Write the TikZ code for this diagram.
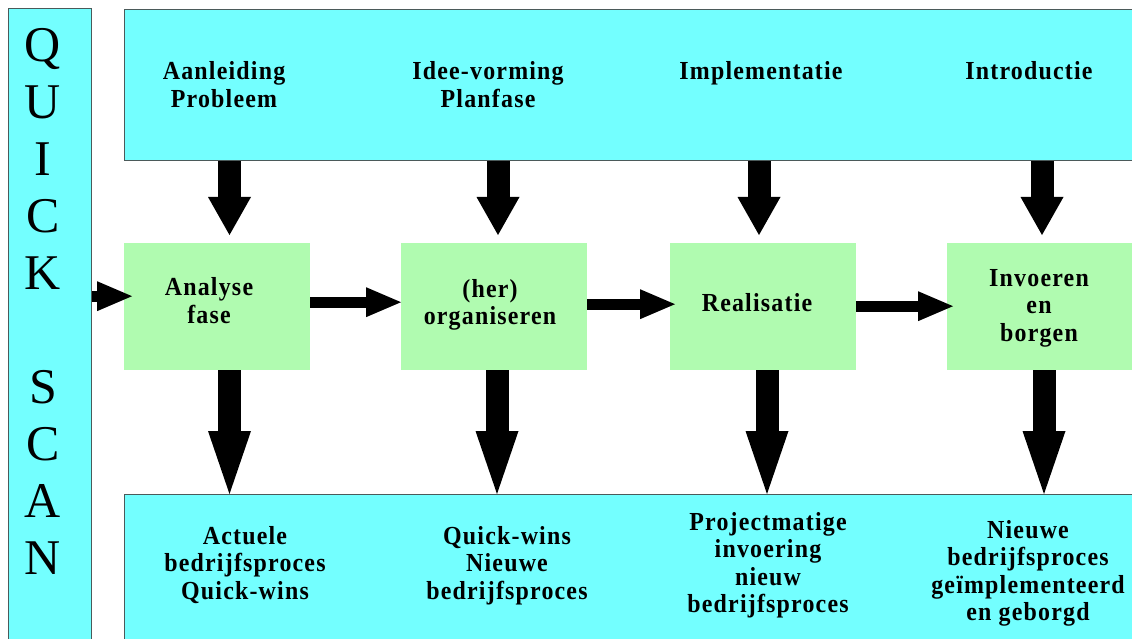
\documentclass[tikz,border=0pt]{standalone}
\usepackage{fontspec}
\setmainfont{Liberation Serif}
\newfontfamily\lblfont[LetterSpace=4.6,FakeStretch=0.92]{Liberation Serif Bold}
\usetikzlibrary{arrows.meta,calc}
\definecolor{cyanbox}{RGB}{115,255,255}
\definecolor{greenbox}{RGB}{176,251,176}
\definecolor{edgegray}{RGB}{75,90,90}
\tikzset{
  cyanpanel/.style={draw=edgegray, line width=1.3pt, fill=cyanbox, anchor=north west, inner sep=0pt},
  greenpanel/.style={draw=none, fill=greenbox, anchor=north west, inner sep=0pt, minimum width=186pt, minimum height=127pt},
  lbl/.style={font=\lblfont\fontsize{26}{27.5}\selectfont, align=center, inner sep=0pt, anchor=north},
  topdown/.style={line width=23pt, -{Triangle[length=38pt,width=43pt,line width=0pt]}},
  botdown/.style={line width=23pt, -{Triangle[length=63pt,width=43pt,line width=0pt]}},
  hright/.style={line width=11pt, -{Triangle[length=35pt,width=30pt,line width=0pt]}}
}
\begin{document}
\begin{tikzpicture}[x=1pt,y=-1pt]
\useasboundingbox (0,0) rectangle (1132,639);
\clip (0,0) rectangle (1132,639);
% panels
\node[cyanpanel, minimum width=83pt, minimum height=650pt] (qs) at (8,8) {};
\node[cyanpanel, minimum width=1020pt, minimum height=151pt] (top) at (124,9) {};
\node[cyanpanel, minimum width=1020pt, minimum height=160pt] (bot) at (124,494) {};
\node[greenpanel] (g1) at (124,243) {};
\node[greenpanel] (g2) at (401,243) {};
\node[greenpanel] (g3) at (670,243) {};
\node[greenpanel, minimum width=192pt] (g4) at (947,243) {};
% quick scan text
\node[font=\fontsize{50}{57}\selectfont, align=center, inner sep=0pt, anchor=north] (qstext) at (43,28)
  {Q\\U\\I\\C\\K\\~\\S\\C\\A\\N};
% top labels
\node[lbl] (t1) at (224,61.5) {Aanleiding\\Probleem};
\node[lbl] (t2) at (488,61.5) {Idee-vorming\\Planfase};
\node[lbl] (t3) at (761,61.5) {Implementatie};
\node[lbl] (t4) at (1029,61.5) {Introductie};
% green labels
\node[lbl] (l1) at (209,277.5) {Analyse\\fase};
\node[lbl] (l2) at (490,279) {(her)\\organiseren};
\node[lbl] (l3) at (757,293) {Realisatie};
\node[lbl] (l4) at (1039,269) {Invoeren\\en\\borgen};
% bottom labels
\node[lbl] (b1) at (245,526) {Actuele\\bedrijfsproces\\Quick-wins};
\node[lbl] (b2) at (507,526) {Quick-wins\\Nieuwe\\bedrijfsproces};
\node[lbl] (b3) at (768,512) {Projectmatige\\invoering\\nieuw\\bedrijfsproces};
\node[lbl] (b4) at (1028,520) {Nieuwe\\bedrijfsproces\\geïmplementeerd\\en geborgd};
% arrow columns
\coordinate (ta1) at (229.5,0);
\coordinate (ta2) at (498,0);
\coordinate (ta3) at (759,0);
\coordinate (ta4) at (1042,0);
\coordinate (ba1) at (229.5,0);
\coordinate (ba2) at (497,0);
\coordinate (ba3) at (767,0);
\coordinate (ba4) at (1044,0);
% top arrows
\draw[topdown, shorten >=8pt] (ta1 |- top.south) -- (ta1 |- g1.north);
\draw[topdown, shorten >=8pt] (ta2 |- top.south) -- (ta2 |- g2.north);
\draw[topdown, shorten >=8pt] (ta3 |- top.south) -- (ta3 |- g3.north);
\draw[topdown, shorten >=8pt] (ta4 |- top.south) -- (ta4 |- g4.north);
% bottom arrows
\draw[botdown] (ba1 |- g1.south) -- (ba1 |- bot.north);
\draw[botdown] (ba2 |- g2.south) -- (ba2 |- bot.north);
\draw[botdown] (ba3 |- g3.south) -- (ba3 |- bot.north);
\draw[botdown] (ba4 |- g4.south) -- (ba4 |- bot.north);
% horizontal arrows
\draw[hright] ([yshift=4.5pt]g1.east) -- ([yshift=4.5pt]g2.west);
\draw[hright, shorten >=-5pt] ([yshift=2.5pt]g2.east) -- ([yshift=2.5pt]g3.west);
\draw[hright, shorten >=-6pt] ([yshift=0.5pt]g3.east) -- ([yshift=0.5pt]g4.west);
\coordinate (la) at ([yshift=10.5pt]g1.west);
\draw[hright, shorten >=-8pt] (la -| qs.east) -- (la);
\end{tikzpicture}
\end{document}
